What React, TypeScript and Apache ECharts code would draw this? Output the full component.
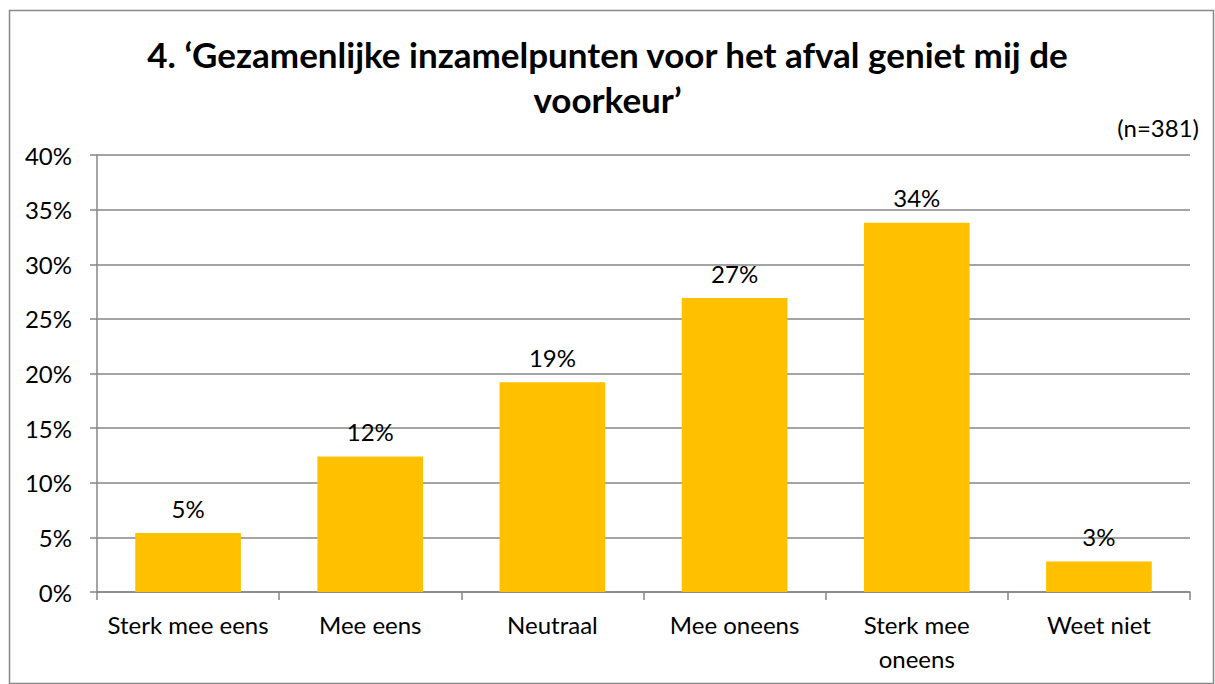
import React, { useEffect, useRef } from "react";
import * as echarts from "echarts";

const categories = ["Sterk mee eens", "Mee eens", "Neutraal", "Mee oneens", "Sterk mee\noneens", "Weet niet"];
const values = [5.4, 12.4, 19.2, 26.9, 33.8, 2.8];
const titleText = "4. ‘Gezamenlijke inzamelpunten voor het afval geniet mij de\nvoorkeur’";
const noteText = "(n=381)";

const FONT = "Lato, 'Noto Sans', sans-serif";

export default function App() {
  const ref = useRef<HTMLDivElement>(null);
  useEffect(() => {
    if (!ref.current) return;
    const chart = echarts.init(ref.current, null, { renderer: "svg" });
    chart.setOption({
      animation: false,
      backgroundColor: "#ffffff",
      textStyle: { fontFamily: FONT },
      title: {
        text: titleText,
        left: "center",
        top: 26,
        textStyle: { fontFamily: FONT, fontWeight: "bold", fontSize: 35, color: "#000", lineHeight: 45 },
      },
      graphic: [
        {
          type: "rect",
          shape: { x: 9.5, y: 10.5, width: 1204, height: 673 },
          style: { fill: "none", stroke: "#888888", lineWidth: 1.5 },
          silent: true,
        },
        {
          type: "text",
          right: 16,
          top: 115,
          style: { text: noteText, font: `24px ${FONT}`, fill: "#000" },
        },
      ],
      grid: { left: 97, right: 25, top: 155, bottom: 92, containLabel: false },
      xAxis: {
        type: "category",
        data: categories,
        axisLine: { lineStyle: { color: "#868686", width: 1.5 } },
        axisTick: { show: true, length: 8, lineStyle: { color: "#868686", width: 1.5 } },
        axisLabel: { color: "#000", fontSize: 24, fontFamily: FONT, margin: 15, lineHeight: 34, interval: 0 },
      },
      yAxis: {
        type: "value",
        min: 0,
        max: 40,
        interval: 5,
        axisLine: { show: true, lineStyle: { color: "#868686", width: 1.5 } },
        axisTick: { show: true, length: 7, lineStyle: { color: "#868686", width: 1.5 } },
        splitLine: { lineStyle: { color: "#868686", width: 1.5 } },
        axisLabel: { color: "#000", fontSize: 24, fontFamily: FONT, margin: 25, formatter: (v: number) => `${v}%` },
      },
      series: [
        {
          type: "bar",
          data: values,
          barWidth: "58%",
          itemStyle: { color: "#FFC000" },
          label: {
            show: true,
            position: "top",
            distance: 13,
            color: "#000",
            fontSize: 24,
            fontFamily: FONT,
            formatter: (p: any) => `${Math.round(p.value)}%`,
          },
        },
      ],
    });
    return () => chart.dispose();
  }, []);
  return <div ref={ref} style={{ position: "absolute", left: 0, top: 0, width: 1215, height: 684 }} />;
}
